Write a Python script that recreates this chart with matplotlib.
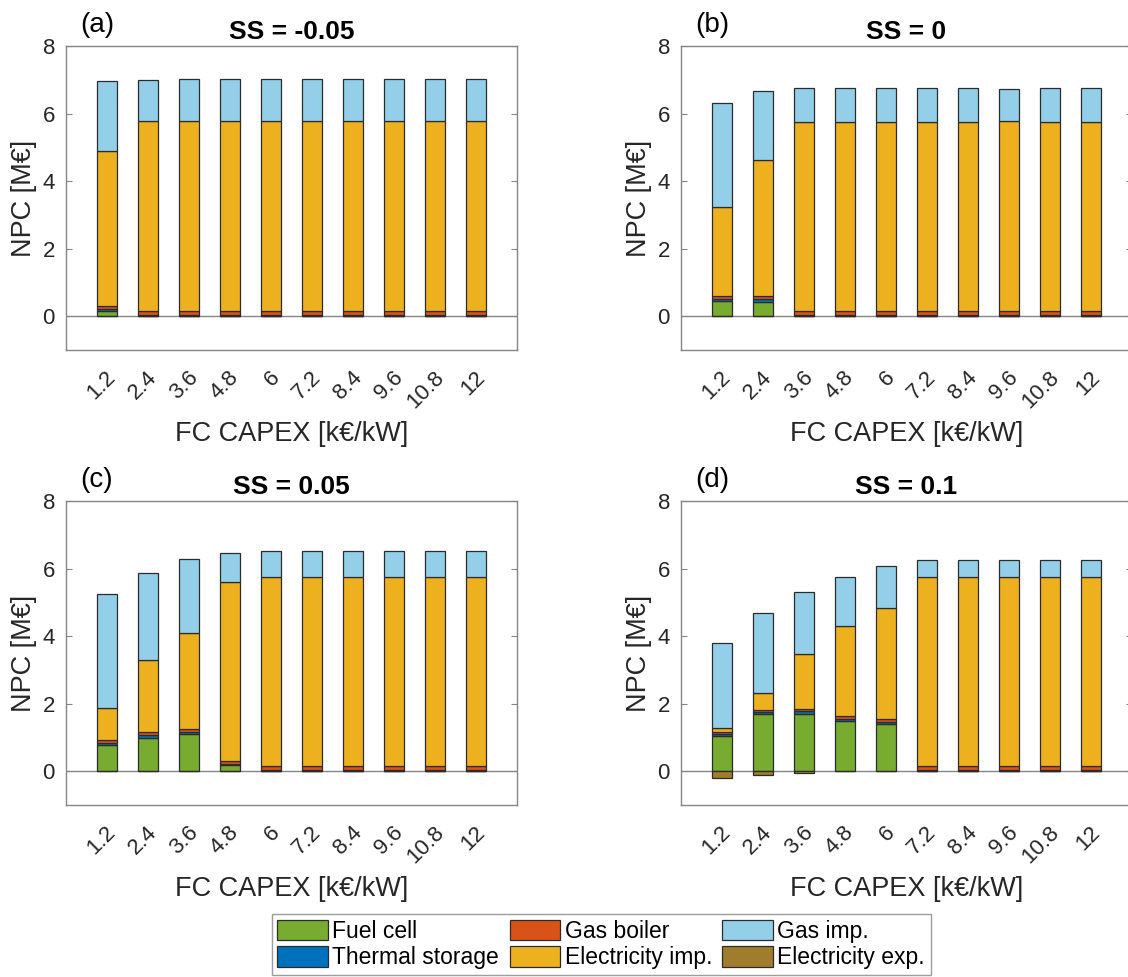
import matplotlib
matplotlib.use("Agg")
import matplotlib.pyplot as plt
import numpy as np

plt.rcParams['font.family'] = ['Liberation Sans', 'DejaVu Sans']

# data
capex = ['1.2', '2.4', '3.6', '4.8', '6', '7.2', '8.4', '9.6', '10.8', '12']
titles = ['SS = -0.05', 'SS = 0', 'SS = 0.05', 'SS = 0.1']
panels = ['(a)', '(b)', '(c)', '(d)']
names = ['Fuel cell', 'Thermal storage', 'Gas boiler', 'Electricity imp.', 'Gas imp.', 'Electricity exp.']
colors = ['#77AC30', '#0072BD', '#D95319', '#EDB120', '#93CFE8', '#A07D2C']

# SS = -0.05
fc_a = [0.15, 0, 0, 0, 0, 0, 0, 0, 0, 0]
ts_a = [0.05, 0.05, 0.05, 0.05, 0.05, 0.05, 0.05, 0.05, 0.05, 0.05]
gb_a = [0.09, 0.10, 0.10, 0.10, 0.10, 0.10, 0.10, 0.10, 0.10, 0.10]
ei_a = [4.61, 5.62, 5.62, 5.62, 5.62, 5.62, 5.62, 5.62, 5.62, 5.62]
gi_a = [2.05, 1.23, 1.26, 1.26, 1.25, 1.26, 1.25, 1.26, 1.24, 1.24]
ee_a = [0, 0, 0, 0, 0, 0, 0, 0, 0, 0]

# SS = 0
fc_b = [0.45, 0.43, 0, 0, 0, 0, 0, 0, 0, 0]
ts_b = [0.07, 0.08, 0.05, 0.05, 0.05, 0.05, 0.05, 0.05, 0.05, 0.05]
gb_b = [0.08, 0.08, 0.10, 0.10, 0.10, 0.10, 0.10, 0.10, 0.10, 0.10]
ei_b = [2.63, 4.04, 5.60, 5.60, 5.60, 5.60, 5.60, 5.63, 5.60, 5.60]
gi_b = [3.09, 2.03, 1.02, 1.02, 1.02, 1.02, 1.02, 0.96, 1.01, 1.01]
ee_b = [0, 0, 0, 0, 0, 0, 0, 0, 0, 0]

# SS = 0.05
fc_c = [0.78, 0.99, 1.10, 0.17, 0, 0, 0, 0, 0, 0]
ts_c = [0.07, 0.08, 0.07, 0.05, 0.05, 0.05, 0.05, 0.05, 0.05, 0.05]
gb_c = [0.07, 0.08, 0.07, 0.09, 0.10, 0.10, 0.10, 0.10, 0.10, 0.10]
ei_c = [0.95, 2.13, 2.84, 5.29, 5.60, 5.60, 5.60, 5.60, 5.60, 5.60]
gi_c = [3.37, 2.59, 2.20, 0.87, 0.77, 0.77, 0.77, 0.77, 0.77, 0.77]
ee_c = [0, 0, 0, 0, 0, 0, 0, 0, 0, 0]

# SS = 0.1
fc_d = [1.04, 1.69, 1.70, 1.49, 1.39, 0, 0, 0, 0, 0]
ts_d = [0.05, 0.06, 0.07, 0.06, 0.08, 0.05, 0.05, 0.05, 0.05, 0.05]
gb_d = [0.07, 0.05, 0.06, 0.08, 0.07, 0.10, 0.10, 0.10, 0.10, 0.10]
ei_d = [0.12, 0.53, 1.65, 2.68, 3.30, 5.60, 5.60, 5.60, 5.60, 5.60]
gi_d = [2.52, 2.35, 1.82, 1.43, 1.24, 0.51, 0.49, 0.51, 0.51, 0.51]
ee_d = [-0.19, -0.10, -0.04, 0, 0, 0, 0, 0, 0, 0]

data = [[fc_a, ts_a, gb_a, ei_a, gi_a, ee_a],
        [fc_b, ts_b, gb_b, ei_b, gi_b, ee_b],
        [fc_c, ts_c, gb_c, ei_c, gi_c, ee_c],
        [fc_d, ts_d, gb_d, ei_d, gi_d, ee_d]]

fig = plt.figure(figsize=(11.28, 9.77), dpi=100)
W, H = 1128, 977
boxes = [[66, 46], [681, 46], [66, 501], [681, 501]]
aw, ah = 451, 304
gray = '#858585'
x = np.arange(1, 11)

handles = []
for k in range(4):
    left, top = boxes[k]
    ax = fig.add_axes([left / W, 1 - (top + ah) / H, aw / W, ah / H])
    series = data[k]
    bottom = np.zeros(10)
    hs = []
    for i in range(5):
        vals = np.array(series[i])
        b = ax.bar(x, vals, 0.5, bottom=bottom, color=colors[i],
                   edgecolor='#2b2b2b', linewidth=0.9, label=names[i], zorder=3)
        bottom = bottom + vals
        hs.append(b)
    b = ax.bar(x, series[5], 0.5, color=colors[5], edgecolor='#2b2b2b',
               linewidth=0.9, label=names[5], zorder=3)
    hs.append(b)
    if k == 0:
        handles = hs
    ax.axhline(0, color=gray, linewidth=1, zorder=2)
    ax.set_xlim(0, 11)
    ax.set_ylim(-1, 8)
    ax.set_yticks([0, 2, 4, 6, 8])
    # rotated labels sit with their upper end just right of each bar
    ax.set_xticks(x + 0.32)
    ax.set_xticklabels(capex, rotation=45, ha='right')
    ax.tick_params(axis='y', direction='in', length=4, right=True, color=gray,
                   labelsize=16, pad=8, labelcolor='#262626')
    ax.tick_params(axis='x', length=0, labelsize=16, pad=12, labelcolor='#262626')
    for s in ax.spines.values():
        s.set_color(gray)
        s.set_linewidth(1)
    ax.set_xlabel('FC CAPEX [k€/kW]', fontsize=19.5, color='#262626', labelpad=6)
    ax.set_ylabel('NPC [M€]', fontsize=19.5, color='#262626', labelpad=4)
    ax.set_title(titles[k], fontsize=19, fontweight='bold', pad=5)
    ax.text(0.031, 1.025, panels[k], transform=ax.transAxes, fontsize=20,
            ha='left', va='bottom')

leg = fig.legend(handles=handles, labels=names, ncol=3, loc='upper center',
                 bbox_to_anchor=(0.533, 1 - 914 / H), fontsize=16.5,
                 frameon=True, fancybox=False, edgecolor=gray,
                 handlelength=2.2, handleheight=1.0, handletextpad=0.2,
                 columnspacing=0.45, labelspacing=0.15, borderpad=0.25,
                 borderaxespad=0)
leg.get_frame().set_linewidth(1)

fig.savefig('out.png', dpi=100)
